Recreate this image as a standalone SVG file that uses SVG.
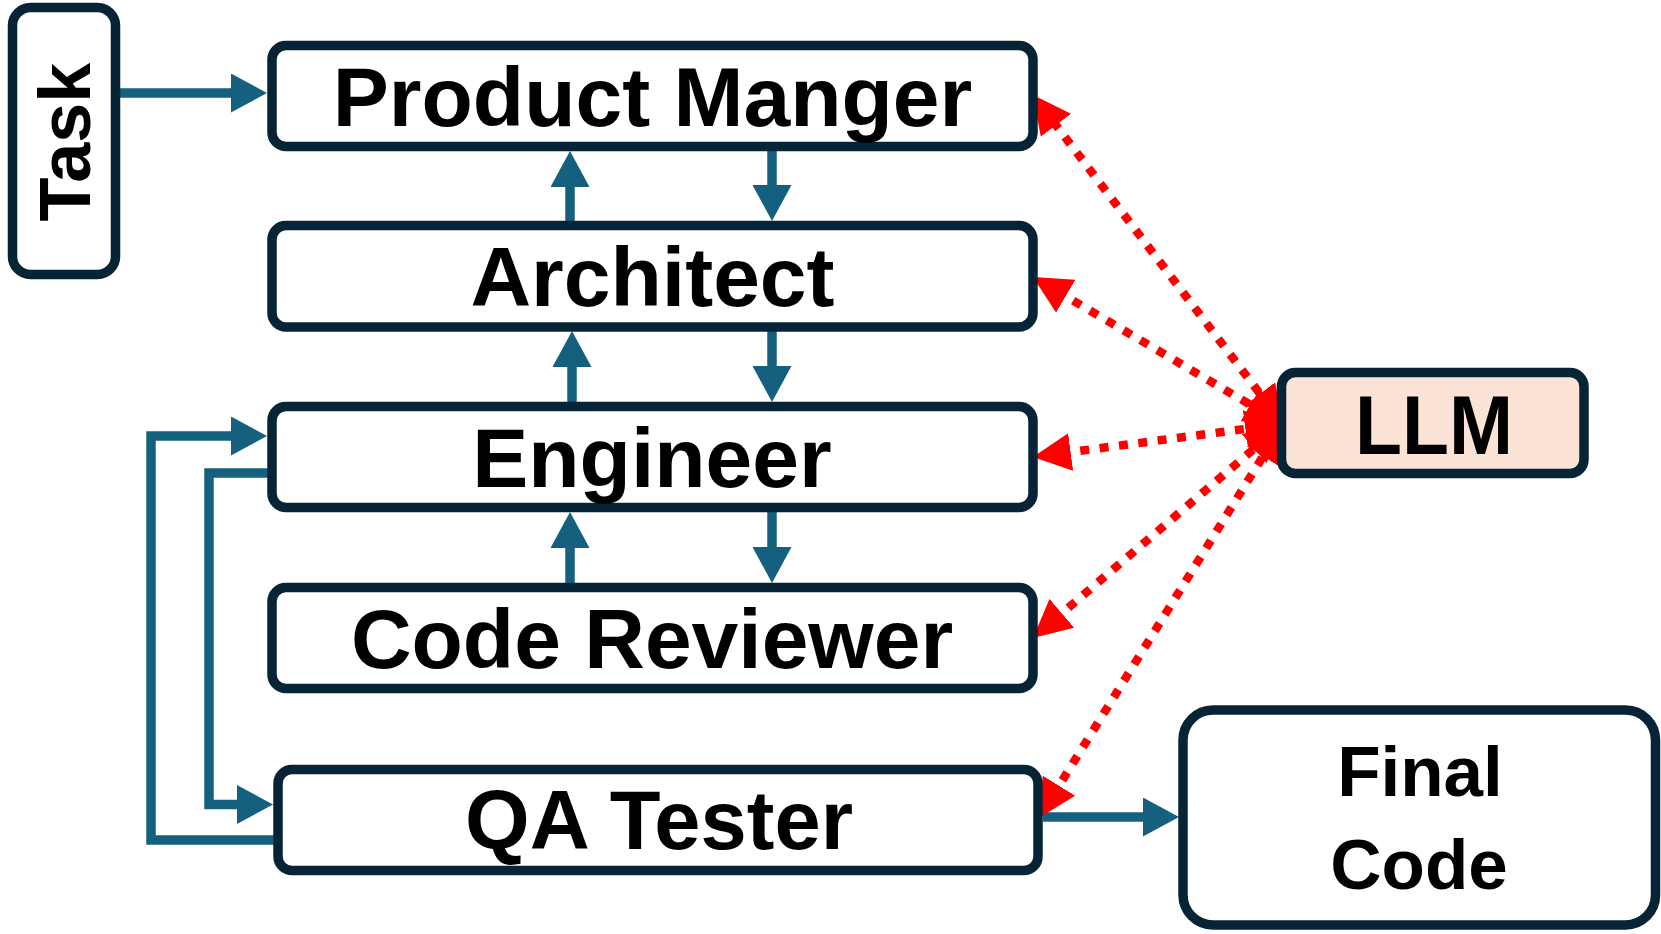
<svg xmlns="http://www.w3.org/2000/svg" width="1661" height="934" viewBox="0 0 1661 934">
<style>
.box{fill:#ffffff;stroke:#072437;stroke-width:9.5}
.llm{fill:#fbe3d6;stroke:#072437;stroke-width:9.5}
.lbl{font-family:"Liberation Sans",Arial,sans-serif;font-weight:bold;fill:#000000;text-anchor:middle}
.blue{fill:none;stroke:#16607f;stroke-width:9.5;marker-end:url(#ab)}
.red{fill:none;stroke:#ff0000;stroke-width:8.5;stroke-dasharray:9 10.5;marker-start:url(#ar);marker-end:url(#ar)}
</style>
<defs>
<marker id="ab" markerUnits="userSpaceOnUse" viewBox="0 0 36 39" refX="16" refY="19.5" markerWidth="36" markerHeight="39" orient="auto">
<path d="M0,0 L36,19.5 L0,39 Z" fill="#16607f"/>
</marker>
<marker id="ar" markerUnits="userSpaceOnUse" viewBox="0 0 38 38" refX="18" refY="19" markerWidth="38" markerHeight="38" orient="auto-start-reverse">
<path d="M0,0 L38,19 L0,38 Z" fill="#ff0000"/>
</marker>
</defs>
<rect width="1661" height="934" fill="#ffffff"/>
<g id="connectors">
<path class="blue" d="M116,93 H247"/>
<path class="blue" d="M772,146.5 V201"/>
<path class="blue" d="M570,225.5 V171"/>
<path class="blue" d="M772,327 V382"/>
<path class="blue" d="M572,406.5 V351"/>
<path class="blue" d="M772,507.5 V563"/>
<path class="blue" d="M570,587.5 V532"/>
<path class="blue" d="M278,840 H151 V436 H247"/>
<path class="blue" d="M272,473 H209 V804.5 H253"/>
<path class="blue" d="M1043,817 H1159"/>
<path class="red" d="M1270.9,408.1 L1045.1,110.9"/>
<path class="red" d="M1265.8,413.9 L1050.2,287.1"/>
<path class="red" d="M1263.2,426.6 L1052.8,454.4"/>
<path class="red" d="M1267.8,437 L1048.2,625"/>
<path class="red" d="M1272.5,441 L1049.5,801"/>
</g>
<g id="task">
<rect class="box" x="12.5" y="7.5" width="103" height="267" rx="18"/>
<text class="lbl" font-size="72" transform="translate(90,142) rotate(-90)">Task</text>
</g>
<g id="product-manager">
<rect class="box" x="272" y="45.5" width="761" height="101" rx="14"/>
<text class="lbl" font-size="84" x="652.5" y="126">Product Manger</text>
</g>
<g id="architect">
<rect class="box" x="272" y="225.5" width="761" height="101.5" rx="14"/>
<text class="lbl" font-size="84" x="652.5" y="306">Architect</text>
</g>
<g id="engineer">
<rect class="box" x="272" y="406.5" width="761" height="101" rx="14"/>
<text class="lbl" font-size="84" x="652" y="487">Engineer</text>
</g>
<g id="code-reviewer">
<rect class="box" x="272" y="587.5" width="761" height="101" rx="14"/>
<text class="lbl" font-size="84" x="652" y="668">Code Reviewer</text>
</g>
<g id="qa-tester">
<rect class="box" x="278" y="769.5" width="760" height="101" rx="14"/>
<text class="lbl" font-size="84" x="659" y="849" textLength="388" lengthAdjust="spacingAndGlyphs">QA Tester</text>
</g>
<g id="llm">
<rect class="llm" x="1281.5" y="372.5" width="302.5" height="101" rx="14"/>
<text class="lbl" font-size="84" x="1434" y="454" textLength="158" lengthAdjust="spacingAndGlyphs">LLM</text>
</g>
<g id="final-code">
<rect class="box" x="1183" y="710" width="472.5" height="215" rx="30"/>
<text class="lbl" font-size="71" x="1420" y="796">Final</text>
<text class="lbl" font-size="71" x="1419" y="889">Code</text>
</g>
</svg>
